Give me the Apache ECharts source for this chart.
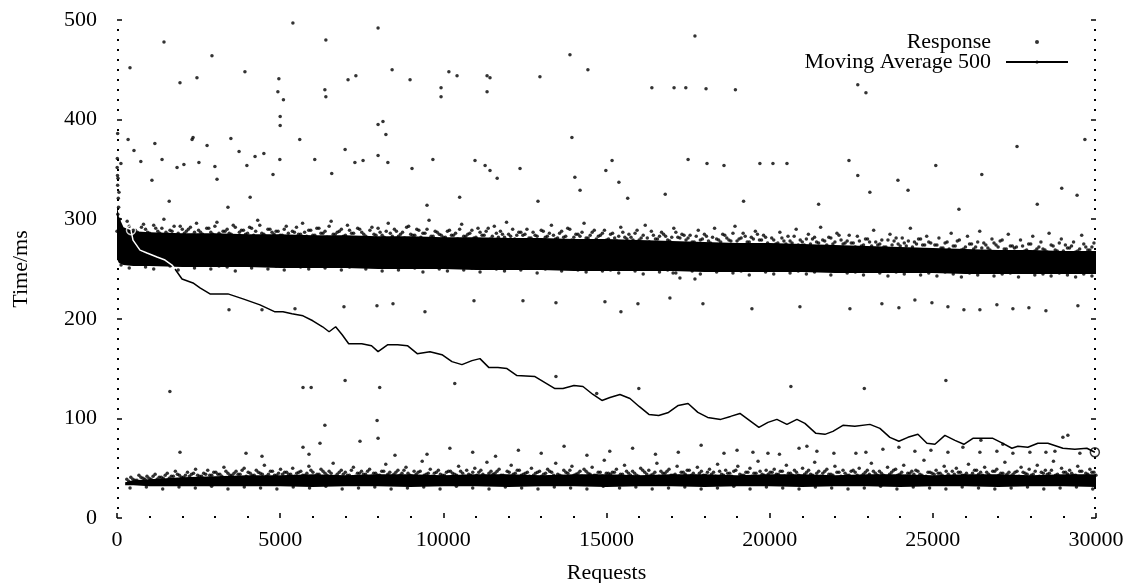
<!DOCTYPE html>
<html><head><meta charset="utf-8">
<script src="https://cdn.jsdelivr.net/npm/echarts@6/dist/echarts.min.js"></script>
<style>html,body{margin:0;padding:0;background:#fff}#c{width:1129px;height:583px}</style>
</head><body><div id="c"></div>
<script>
// ---------- DATA ----------
const xTicks = [0, 5000, 10000, 15000, 20000, 25000, 30000];
const yTicks = [0, 100, 200, 300, 400, 500];

// dense upper band (core envelope, ms)
const upEnvX = [0,60,200,500,1000,2000,3000,4000,5000,6000,7000,8000,9000,10000,11000,12000,13000,14000,15000,16000,17000,18000,19000,20000,21000,22000,23000,24000,25000,26000,27000,28000,29000,30000];
const upLo = [260,256,254,253,253,252,252,252,251,251, 251,250,250,250,249,249,249,248,248,248, 248,247,247,247,247,246,246,246,246,245, 245,245,245,245];
const upHi = [314,302,292,288,287,286,286,285,285,284, 284,283,283,282,282,281,281,280,280,279, 278,277,276,276,275,274,273,272,271,270, 269,269,268,268];

// dense lower band (core envelope, ms)
const loEnvX = [250,500,1000,1500,2000,3000,4000,5000,6000,7000,8000,9000,10000,11000,12000,13000,14000,15000,16000,17000,18000,19000,20000,21000,22000,23000,24000,25000,26000,27000,28000,29000,30000];
const loLo = [33,33,32,32,32,32,32,32,31,32, 32,31,32,32,31,32,32,31,32,32, 31,32,32,31,32,32,31,32,32,31, 32,32,31];
const loHi = [36,38,39,40,41,42,43,43,44,43, 44,44,43,44,44,43,44,44,43,44, 44,43,44,44,43,44,44,43,44,44, 43,44,44];

// responses in the speckled zone above the upper band (one every 125 requests from 62)
const upTopX0 = 62, upTopStep = 125;
const upTopY = [
292,286,298,284,289,285,295,287,284,291,286,300,285,288,283,293,286,290,284,296,
287,283,291,285,297,284,288,286,294,283,289,285,292,284,299,286,283,290,285,288,
284,293,282,287,285,296,283,289,284,291,286,282,298,285,288,283,294,286,281,290,
285,281,292,284,287,282,296,283,288,285,281,293,284,290,282,286,299,283,287,284,
282,289,284,280,295,283,286,281,291,284,288,280,293,282,285,297,283,280,287,284,
290,281,284,279,288,283,294,280,286,282,291,279,285,283,296,281,287,280,284,289,
280,286,278,292,282,285,279,289,281,294,277,284,280,287,283,278,291,282,285,279,
284,277,289,280,283,276,291,279,285,281,278,293,280,286,277,282,288,279,284,276,
281,275,287,278,283,276,290,279,274,285,280,277,292,278,282,275,286,279,276,284,
276,283,273,280,277,289,274,279,272,285,278,275,281,273,291,277,280,274,283,276,
274,281,271,277,286,273,279,270,283,275,272,288,276,271,280,274,278,270,285,273,
272,279,268,275,283,270,277,269,286,273,268,280,274,271,277,268,284,272,269,276];

// responses hugging the top of the upper band (one every 125 requests from 0)
const upTop2X0 = 0, upTop2Step = 125;
const upTop2Y = [
288,291,286,293,289,287,292,290,286,294,288,291,287,289,293,286,290,288,292,287,
289,285,291,287,293,286,288,290,285,292,287,289,286,291,288,294,285,290,287,288,
284,290,286,288,292,285,287,289,284,291,286,288,293,285,287,290,284,289,286,291,
287,283,289,285,291,284,288,286,290,283,287,292,285,284,289,286,290,283,288,285,
282,288,284,286,290,283,285,289,282,287,284,291,283,286,288,282,285,290,284,287,
285,281,287,283,289,282,286,284,281,288,283,290,282,285,287,281,284,289,283,286,
279,285,281,283,287,280,282,286,279,284,281,288,280,283,285,279,282,287,281,284,
281,277,283,279,285,278,282,280,277,284,279,286,278,281,283,277,280,285,279,282,
274,279,276,281,275,278,283,274,277,280,275,282,276,279,274,281,277,284,275,278,
276,272,278,274,280,273,277,275,272,279,274,281,273,276,278,272,275,280,274,277,
269,274,271,276,270,273,278,269,272,275,270,277,271,274,269,276,272,279,270,273,
271,267,273,269,275,268,272,270,267,274,269,276,268,271,273,267,270,275,269,272];

// responses just below the upper band (one every 250 requests from 125)
const upBotX0 = 125, upBotStep = 250;
const upBotY = [
254,251,256,252,250,255,253,249,254,251,256,250,253,252,248,255,251,254,250,253,249,255,252,250,254,251,253,249,252,254,
250,253,248,252,249,254,251,247,253,250,248,252,249,251,247,253,250,248,252,249,251,246,250,252,248,251,249,247,250,248,
249,246,251,248,245,250,247,249,246,251,248,245,249,247,250,246,248,244,249,247,245,250,246,248,245,247,249,244,248,246,
247,244,248,246,243,247,245,248,244,246,243,247,245,242,246,244,247,243,245,246,242,247,244,245,243,246,244,242,245,243];

// responses in the speckled zone above the lower band (one every 124 requests from 300)
const loTopX0 = 300, loTopStep = 124;
const loTopY = [
39,41,38,43,40,42,39,44,41,40,45,42,47,43,41,46,44,49,42,45,
48,43,46,44,51,45,43,47,44,50,46,43,48,45,53,44,47,43,49,46,
44,50,45,47,43,52,46,44,49,45,47,55,44,48,46,43,51,45,47,44,
49,45,43,47,54,46,44,48,45,51,43,47,46,57,44,49,45,48,43,46,
47,44,52,45,48,43,50,46,44,56,47,45,49,43,47,53,45,48,44,46,
50,45,47,44,49,46,55,43,48,45,52,44,47,49,45,51,43,46,58,45,
46,49,44,53,45,47,43,50,46,48,44,55,47,45,49,43,52,46,44,48,
45,51,47,43,49,46,54,44,48,45,47,52,43,46,50,45,57,44,48,46,
49,44,47,53,45,48,43,50,46,44,56,47,45,49,44,52,46,48,43,47,
46,50,44,48,55,45,47,43,51,46,49,44,53,45,47,48,44,58,46,45,
48,45,52,44,47,50,46,43,54,45,48,46,51,44,47,49,45,56,46,44,
47,51,45,49,44,53,46,48,45,57,44,50,46,48,43,52,47,45,49,46];

// responses hugging the top of the lower band (one every 124 requests from 362)
const loTop2X0 = 362, loTop2Step = 124;
const loTop2Y = [
37,39,38,41,39,40,42,39,41,43,40,42,44,41,43,42,45,43,42,44,
43,46,44,42,47,43,45,44,48,42,45,43,46,44,42,47,43,45,44,46,
44,42,46,43,45,48,42,44,47,43,45,42,46,44,43,48,42,45,44,47,
42,45,43,47,44,42,46,43,48,45,42,44,47,43,45,42,46,44,43,47,
45,43,47,42,44,46,43,48,42,45,44,47,43,42,46,44,48,43,45,42,
43,46,42,45,47,43,44,42,46,48,43,45,42,47,44,43,46,42,45,44,
46,42,44,47,43,45,42,48,44,43,46,42,45,47,43,44,42,46,48,43,
42,45,43,46,44,42,47,43,45,42,48,44,43,46,42,45,47,43,44,46,
44,47,42,45,43,46,42,44,48,43,45,42,47,44,43,46,42,45,43,48,
43,42,46,44,47,43,45,42,44,48,43,46,42,45,44,47,43,42,46,44,
45,43,47,42,44,46,43,45,42,48,44,43,46,42,47,43,45,44,42,46,
42,46,44,43,47,42,45,44,48,43,42,46,44,45,43,47,42,44,46,43];

// responses just below the lower band (one every 500 requests from 400)
const loBotX0 = 400, loBotStep = 500;
const loBotY = [30,31,29,31,30,32,29,31,30,29,31,30,32,29,30,31,29,30,31,29,32,30,29,31,30,29,31,30,29,32,
30,31,29,30,31,29,30,32,29,31,30,29,31,30,29,30,32,29,31,30,29,31,30,29,30,31,29,30,31,29];

// isolated slow / fast responses [request, ms]
const highOut = [[398,452],[1440,478],[1930,437],[2450,442],[2910,464],[3920,448],[4960,441],[4930,428],[5100,420],[5000,403],[5000,394],[5390,497],[6400,480],[6370,430],[6400,423],[7080,440],[7320,444],[8000,492],[8430,450],[8980,440],[9930,432],[9930,423],[10170,448],[10420,444],[11340,444],[11430,442],[11340,428],[12960,443],[13880,465],[14430,450],[16390,432],[17070,432],[17430,432],[17710,484],[18050,431],[18950,430],[22700,435],[22950,427],[29660,380]];
const midOut = [[20,386],[340,380],[520,369],[120,356],[730,358],[1160,376],[1380,360],[1070,339],[1840,352],[2050,355],[2300,380],[2330,382],[2510,357],[2760,374],[3000,353],[3065,340],[3490,381],[3740,368],[3980,354],[4230,363],[4500,366],[4780,345],[4080,322],[4990,360],[8000,395],[8150,398],[8240,385],[8000,364],[8300,357],[5600,380],[6060,360],[6580,346],[6990,370],[7290,357],[7540,359],[9040,351],[9680,360],[10970,359],[11280,354],[11430,349],[11650,341],[12350,351],[13940,382],[14030,342],[14190,329],[14980,349],[15170,359],[15380,337],[15650,321],[17500,360],[18080,356],[18600,354],[19700,356],[20100,356],[20530,356],[22430,359],[22700,344],[23070,327],[23930,339],[24240,329],[25090,354],[27580,373],[28950,331],[29420,324],[26500,345],[21500,315],[19200,318],[16800,325],[12900,318],[10500,322],[3400,312],[1600,318],[9500,314],[25800,310],[28200,315]];
const edgeOut = [[10,361],[15,344],[30,341],[20,334],[40,321],[50,312],[25,305],[80,300],[5,352],[60,327]];
const row210 = [[3432,209],[4443,209],[5454,210],[6955,212],[7966,213],[8457,215],[9437,207],[10939,218],[12440,218],[13451,216],[14952,217],[15442,207],[15963,215],[16943,221],[17955,215],[19456,210],[20927,212],[22459,210],[23439,215],[23960,211],[24450,219],[24972,216],[25462,212],[25952,209],[26442,209],[26963,214],[27453,210],[27944,211],[28465,208],[29445,213],[17040,246],[17250,241],[17710,240]];
const lowOut = [[1620,127],[5700,131],[5950,131],[6990,138],[6370,93],[7970,98],[8000,80],[8050,131],[10350,135],[13451,142],[14700,125],[15990,130],[20650,132],[22900,130],[25400,138]];
const row66 = [[19487,66],[19947,65],[21141,72],[21447,67],[21968,65],[22642,65],[22949,66],[23470,69],[23960,71],[24450,67],[24941,68],[25462,66],[25921,71],[26442,66],[26473,78],[26963,67],[27146,74],[27453,65],[27974,66],[28465,66],[28741,67],[28985,81],[29138,83],[29506,65],[1930,66],[3953,65],[4443,62],[5699,71],[5883,64],[6220,75],[7446,77],[8518,63],[9500,64],[10200,70],[10900,66],[11600,62],[12300,68],[13000,65],[13700,72],[14400,63],[15100,67],[15800,70],[16500,64],[17200,66],[17900,73],[18600,65],[19000,68],[20300,64],[20900,70]];

// moving average (500)
const maX = [429,490,705,919,1226,1471,1685,1777,1992,2329,2543,2850,3401,3861,4382,4842,5086,5362,5700,6000,6300,6500,6700,6900,7100,7500,7800,8000,8300,8600,8900,9200,9590,9958,10264,10570,10877,11122,11398,11674,11950,12256,12808,13420,13666,14003,14279,14585,14860,15106,15412,15719,16000,16300,16600,16900,17200,17500,17800,18100,18500,18800,19089,19670,19947,20222,20529,20835,21080,21417,21693,21938,22245,22612,23072,23378,23684,23960,24236,24543,24819,25064,25370,25677,25952,26228,26534,26840,27146,27422,27606,27912,28219,28525,28985,29353,29720,29965];
const maY = [289,279,269,266,262,259,254,250,240,236,231,225,225,220,214,207,207,205,203,198,192,187,192,184,175,175,173,167,174,174,173,165,167,164,157,154,158,160,151,151,150,143,142,130,130,133,132,124,118,121,124,120,112,104,103,106,113,115,106,101,99,102,105,91,96,99,94,99,95,85,84,87,93,92,94,90,81,77,81,84,75,74,83,78,74,80,80,80,75,70,72,71,75,75,70,69,70,66];
const maWhiteEnd = 7; // index where the average leaves the dense band

// ---------- CHART ----------
const FONT = 'Liberation Serif';
const zip = (xs, ys) => xs.map((x, i) => [x, ys[i]]);
const seq = (x0, step, ys) => ys.map((y, i) => [x0 + step * i, y]);
const ma = zip(maX, maY);

const dot = (data) => ({
  name: 'Response', type: 'scatter', data, symbol: 'circle', symbolSize: 3.5,
  itemStyle: { color: '#000' }, z: 3, silent: true
});
// the saturated core of a band, drawn as one polygon through the envelope samples
const band = (xs, lo, hi) => ({
  name: 'ResponseBand', type: 'custom', silent: true, clip: true, z: 2,
  data: xs.map((x, i) => [x, lo[i], hi[i]]),
  renderItem: (params, api) => {
    if (params.dataIndexInside !== 0) return null;
    const n = params.dataInsideLength, top = [], bot = [];
    for (let i = 0; i < n; i++) {
      top.push(api.coord([api.value(0, i), api.value(2, i)]));
      bot.push(api.coord([api.value(0, i), api.value(1, i)]));
    }
    return { type: 'polygon', shape: { points: top.concat(bot.reverse()) }, style: { fill: '#000' } };
  }
});

const tickStyle = { show: true, inside: true, length: 5, lineStyle: { color: '#000', width: 1.5 } };
const minor = (n) => ({ show: true, splitNumber: n, length: 2, lineStyle: { color: '#000', width: 2 } });

const option = {
  animation: false,
  backgroundColor: '#fff',
  grid: { left: 117, right: 33, top: 20, bottom: 65, containLabel: false, outerBoundsMode: 'none' },
  legend: {
    data: [{ name: 'Response', icon: 'circle' }, { name: 'Moving Average 500' }],
    orient: 'vertical', align: 'right', right: 55, top: 26,
    itemWidth: 62, itemHeight: 4, itemGap: -2, selectedMode: false,
    textStyle: { fontFamily: FONT, fontSize: 22, color: '#000', lineHeight: 20, padding: [0, 10, 0, 0] }
  },
  xAxis: {
    type: 'value', min: 0, max: 30000, interval: 5000,
    name: 'Requests', nameLocation: 'middle', nameGap: 44,
    nameTextStyle: { fontFamily: FONT, fontSize: 22, color: '#000' },
    axisLine: { show: false }, splitLine: { show: false },
    axisTick: tickStyle, minorTick: minor(5),
    axisLabel: { fontFamily: FONT, fontSize: 22, color: '#000', margin: 11, formatter: v => String(v) }
  },
  yAxis: [{
    type: 'value', min: 0, max: 500, interval: 100,
    name: 'Time/ms', nameLocation: 'middle', nameGap: 85, nameRotate: 90,
    nameTextStyle: { fontFamily: FONT, fontSize: 22, color: '#000' },
    axisLine: { show: false }, splitLine: { show: false },
    axisTick: tickStyle, minorTick: minor(10),
    axisLabel: { fontFamily: FONT, fontSize: 22, color: '#000', margin: 20, formatter: v => String(v) }
  }, {
    type: 'value', min: 0, max: 500, interval: 100, position: 'right',
    axisLine: { show: false }, splitLine: { show: false },
    axisTick: tickStyle, minorTick: minor(10), axisLabel: { show: false }
  }],
  series: [
    dot(edgeOut),
    band(upEnvX, upLo, upHi),
    band(loEnvX, loLo, loHi),
    dot(seq(upTopX0, upTopStep, upTopY)),
    dot(seq(upTop2X0, upTop2Step, upTop2Y)),
    dot(seq(upBotX0, upBotStep, upBotY)),
    dot(seq(loTopX0, loTopStep, loTopY)),
    dot(seq(loTop2X0, loTop2Step, loTop2Y)),
    dot(seq(loBotX0, loBotStep, loBotY)),
    dot(highOut), dot(midOut), dot(row210), dot(lowOut), dot(row66),
    { name: 'Moving Average 500', type: 'line', data: ma.slice(maWhiteEnd), symbol: 'none',
      lineStyle: { color: '#000', width: 1.5 }, itemStyle: { color: '#000' }, z: 5, silent: true },
    { name: 'maInBand', type: 'line', data: ma.slice(0, maWhiteEnd + 1), symbol: 'none',
      lineStyle: { color: '#fff', width: 1.5 }, z: 6, silent: true },
    { name: 'maEnds', type: 'scatter', symbol: 'circle', symbolSize: 9, z: 7, silent: true,
      data: [
        { value: ma[0], itemStyle: { color: 'rgba(0,0,0,0)', borderColor: '#fff', borderWidth: 1.5 } },
        { value: ma[ma.length - 1], itemStyle: { color: 'rgba(0,0,0,0)', borderColor: '#000', borderWidth: 1.5 } }
      ] }
  ]
};
const chart = echarts.init(document.getElementById('c'), null, { renderer: 'canvas' });
chart.setOption(option);
</script></body></html>
